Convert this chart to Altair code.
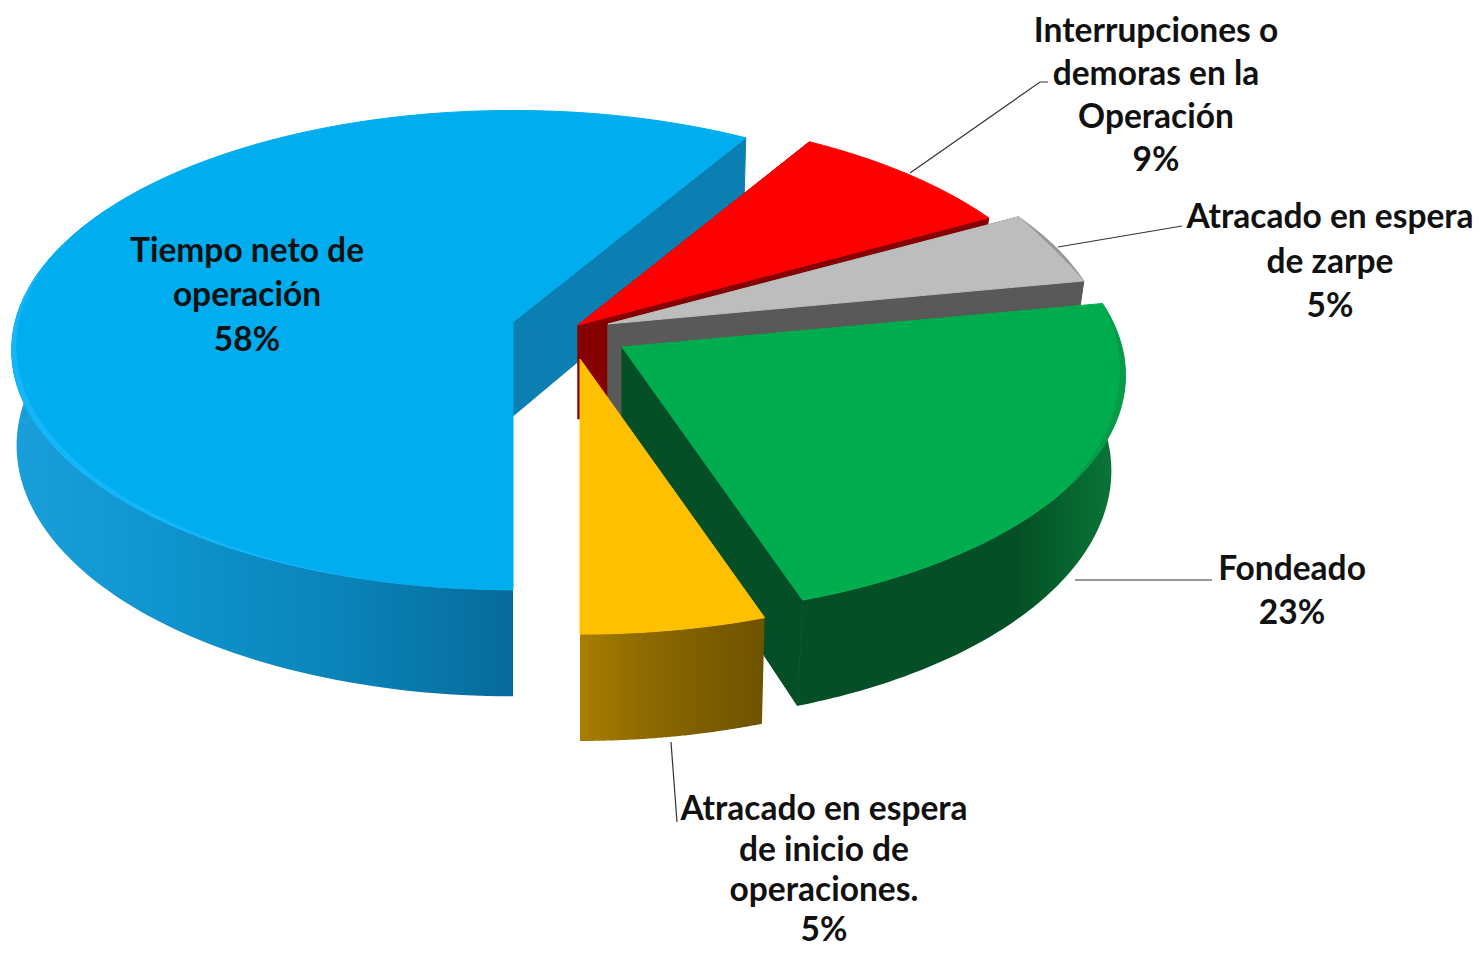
import math
import altair as alt
import pandas as pd

# Chart values
names = ["Tiempo neto de operación", "Interrupciones o demoras en la Operación",
         "Atracado en espera de zarpe", "Fondeado", "Atracado en espera de inicio de operaciones."]
shares = [58.6, 8.4, 5.0, 22.8, 5.2]

label_lines = [
    ["Tiempo neto de", "operación", "58%"],
    ["Interrupciones o", "demoras en la", "Operación", "9%"],
    ["Atracado en espera", "de zarpe", "5%"],
    ["Fondeado", "23%"],
    ["Atracado en espera", "de inicio de", "operaciones.", "5%"],
]
label_x = [247, 1156, 1330, 1292, 824]
label_y = [[252, 296, 341], [32, 75, 118, 161], [218, 263, 307], [570, 614], [810, 851, 891, 931]]

# Layout of the exploded slices
apex = [(513, 322), (578, 325), (608, 324), (622, 347), (580, 359)]
stretch = [1.006, 1.0, 1.0, 1.01, 1.03]
shrink = [0.99, 0.972, 0.972, 0.972, 0.985]
R, K, D, DEPTH = 495.0, 235.0, 8.57, 94.0
top_c = ["#00ADEF", "#FF0000", "#BDBDBD", "#00AD4E", "#FFC000"]
wall_c = ["#0B7FB2", "#870000", "#595959", "#044F25", "#8A6700"]
rim_c = ["#14B6F7", None, "#969696", "#079A47", None]
rim_w = [0.012, 0, 0.008, 0.012, 0]
wall_stops = [
    ["#1A9FDB", "#0E93CC", "#0A83B8", "#066B9A"],
    ["#870000", "#870000"],
    ["#595959", "#595959"],
    ["#044F25", "#044F25", "#044F25", "#0A7A3A"],
    ["#A87E00", "#8F6B00", "#7D5E00", "#6E5300"],
]

starts = []
a = 180.0
for s in shares:
    starts.append(a)
    a += s * 3.6


def pt(i, ang, r=1.0):
    t = math.radians(ang)
    u, v = r * math.sin(t) * stretch[i], -r * math.cos(t) * stretch[i]
    f = D / (D - v)
    return apex[i][0] + R * u * f, apex[i][1] + K * v * f, f


def low(i, p):
    return apex[i][0] + (p[0] - apex[i][0]) * shrink[i], p[1] + DEPTH * p[2]


def arc(i, a0, a1, n=90):
    return [pt(i, a0 + (a1 - a0) * k / n) for k in range(n + 1)]


def frame(points):
    return alt.Data(values=[{"x": p[0], "y": p[1], "o": k} for k, p in enumerate(points)])


X = alt.X("x:Q", axis=None, scale=alt.Scale(domain=[8, 1474], nice=False, zero=False))
Y = alt.Y("y:Q", axis=None, scale=alt.Scale(domain=[949, 8], nice=False, zero=False))


def poly(points, fill, stroke=None):
    closed = list(points) + [points[0]]
    kw = {"stroke": stroke, "strokeWidth": 1} if stroke else {"strokeWidth": 0, "strokeOpacity": 0}
    return alt.Chart(frame(closed)).mark_line(fill=fill, fillOpacity=1, **kw).encode(
        x=X, y=Y, order="o:Q")


def grad(cols):
    n = len(cols) - 1
    return alt.Gradient(gradient="linear", x1=0, x2=1, y1=0, y2=0,
                        stops=[alt.GradientStop(offset=k / n, color=c) for k, c in enumerate(cols)])


def rim(i, a0, a1, n=90):
    """Tapered bevel along the outer edge of a slice's top face."""
    outer = [pt(i, a0 + (a1 - a0) * k / n)[:2] for k in range(n + 1)]
    inner = []
    for k in range(n, -1, -1):
        s = math.sin(math.pi * k / n)
        inner.append(pt(i, a0 + (a1 - a0) * k / n, 1 - rim_w[i] * s)[:2])
    return poly(outer + inner, rim_c[i])


def slice_layers(i, wall_range=None, radial=(), rim_range=None):
    a0, a1 = starts[i], starts[i] + shares[i] * 3.6
    out = []
    ap = (apex[i][0], apex[i][1], 1.0)
    for ang in radial:
        e = pt(i, ang)
        out.append(poly([ap[:2], e[:2], low(i, e), low(i, ap)], wall_c[i], wall_c[i]))
    if wall_range:
        t = arc(i, *wall_range)
        out.append(poly([p[:2] for p in t] + [low(i, p) for p in reversed(t)], grad(wall_stops[i])))
    outer = arc(i, a0, a1)
    out.append(poly([ap[:2]] + [p[:2] for p in outer], top_c[i], top_c[i]))
    if rim_c[i]:
        out.append(rim(i, *(rim_range or (a0, a1))))
    return out


ends = [s + v * 3.6 for s, v in zip(starts, shares)]
layers = []
# blue: outer wall seen from the bottom point round to the left, and its cut face
layers += slice_layers(0, wall_range=(300, 180), radial=[ends[0]], rim_range=(195, 290))
# red and grey, behind the green slice
layers += slice_layers(1, radial=[starts[1], ends[1]])
layers += slice_layers(2, radial=[starts[2], ends[2]])
# green, then yellow in front of it
layers += slice_layers(3, wall_range=(starts[3] + 10, ends[3]), radial=[ends[3]], rim_range=(starts[3], starts[3] + 45))
layers += slice_layers(4, wall_range=(starts[4], ends[4]))

# leader lines
leaders = [
    [(910, 173), (1040, 82), (1048, 82)],
    [(1058, 247), (1182, 226)],
    [(1075, 580), (1212, 580)],
    [(671, 742), (677, 822)],
]
rows = []
for g, pts in enumerate(leaders):
    for k, p in enumerate(pts):
        rows.append({"x": p[0], "y": p[1], "g": g, "o": k})
layers.append(alt.Chart(alt.Data(values=rows)).mark_line(stroke="#333333", strokeWidth=1.2).encode(
    x=X, y=Y, detail="g:N", order="o:Q"))

# labels
trows = []
for lx, ly, lines in zip(label_x, label_y, label_lines):
    for yy, line in zip(ly, lines):
        trows.append({"x": lx, "y": yy, "t": line})
layers.append(alt.Chart(alt.Data(values=trows)).mark_text(
    font="Lato", fontSize=33.5, fontWeight="bold", color="#111111", align="center", baseline="middle"
).encode(x=X, y=Y, text="t:N"))

chart = alt.layer(*layers).properties(
    width=1466, height=941, padding=0, background="white",
    autosize=alt.AutoSizeParams(type="none"),
).configure_view(stroke=None)
chart.save("out.html", embed_options={"renderer": "svg", "actions": False})
